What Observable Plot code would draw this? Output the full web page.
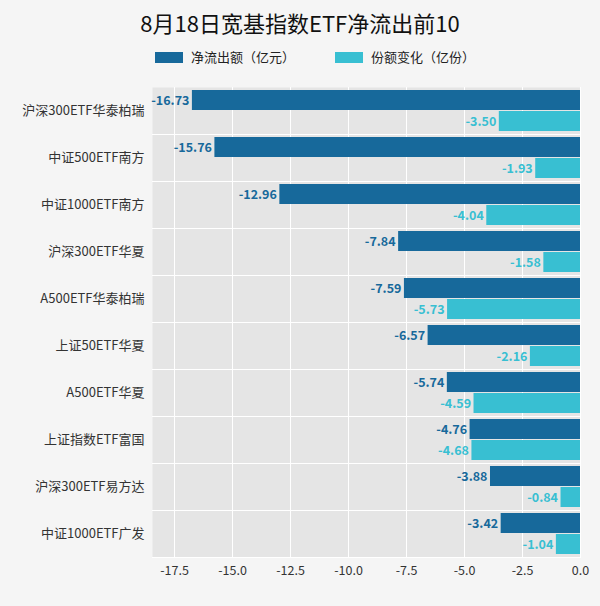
<!DOCTYPE html>
<html><head><meta charset="utf-8">
<script src="https://cdn.jsdelivr.net/npm/d3@7"></script>
<script src="https://cdn.jsdelivr.net/npm/@observablehq/plot@0.6"></script>
<style>
body{margin:0;background:#f5f5f5;font-family:"Noto Sans CJK SC",sans-serif;}
#t{text-align:center;font-size:22px;padding-top:6px;height:36px;color:#111}
#lg{display:flex;gap:40px;justify-content:center;font-size:13px;height:28px;align-items:center;margin-left:30px;color:#222}
#lg span i{display:inline-block;width:28px;height:11px;margin-right:8px;vertical-align:-1px}
</style></head><body>
<div id="t">8月18日宽基指数ETF净流出前10</div>
<div id="lg"><span><i style="background:#17699b"></i>净流出额（亿元）</span><span><i style="background:#38bfd2"></i>份额变化（亿份）</span></div>
<div id="c"></div>
<script>
const categories=["沪深300ETF华泰柏瑞","中证500ETF南方","中证1000ETF南方","沪深300ETF华夏","A500ETF华泰柏瑞","上证50ETF华夏","A500ETF华夏","上证指数ETF富国","沪深300ETF易方达","中证1000ETF广发"];
const outflow=[-16.73,-15.76,-12.96,-7.84,-7.59,-6.57,-5.74,-4.76,-3.88,-3.42];
const shares=[-3.50,-1.93,-4.04,-1.58,-5.73,-2.16,-4.59,-4.68,-0.84,-1.04];
const series=["净流出额（亿元）","份额变化（亿份）"];
const colors=["#17699b","#38bfd2"];
const ticks=[-17.5,-15,-12.5,-10,-7.5,-5,-2.5,0];
const data=categories.flatMap((c,i)=>[{c,s:series[0],v:outflow[i]},{c,s:series[1],v:shares[i]}]);
const ch=Plot.plot({
 width:600,height:536,marginLeft:152,marginRight:20,marginTop:12,marginBottom:45,
 style:{background:"#f5f5f5",fontSize:"12px",fontFamily:"Noto Sans CJK SC"},
 x:{domain:[-18.45,0],label:null},
 fy:{domain:categories,label:null,paddingInner:0,paddingOuter:0},
 y:{domain:series,axis:null,paddingInner:0.05,paddingOuter:0.14},
 color:{domain:series,range:colors},
 facet:{data,y:"c"},
 marks:[
  Plot.frame({fill:"#e5e5e5",stroke:null}),
  Plot.gridX({ticks,stroke:"#fff",strokeOpacity:1}),
  Plot.frame({anchor:"bottom",stroke:"#fff",strokeWidth:1}),
  Plot.barX(data,{x:"v",y:"s",fill:"s"}),
  Plot.text(data,{x:"v",y:"s",text:d=>d.v.toFixed(2),textAnchor:"end",dx:-3,fill:"s",fontWeight:"bold",fontSize:12.5}),
  Plot.axisFy({anchor:"left",tickSize:0,fontSize:13,tickPadding:8,color:"#333"}),
  Plot.axisX({ticks,tickFormat:d=>d.toFixed(1),tickSize:0,fontSize:12.5,color:"#333",label:null})
 ]
});
document.getElementById("c").append(ch);
</script></body></html>
